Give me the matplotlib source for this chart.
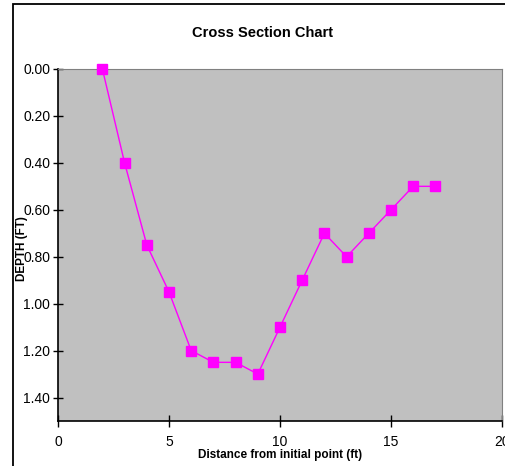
import matplotlib.pyplot as plt
from matplotlib.patches import Rectangle

plt.rcParams['font.family'] = ['Liberation Sans', 'DejaVu Sans']

# survey readings along the cross section
distance = [2, 3, 4, 5, 6, 7, 8, 9, 10, 11, 12, 13, 14, 15, 16, 17]
depth = [0.0, 0.4, 0.75, 0.95, 1.2, 1.25, 1.25, 1.3, 1.1, 0.9, 0.7, 0.8, 0.7, 0.6, 0.5, 0.5]
x_ticks = [0, 5, 10, 15, 20]
y_ticks = [0.0, 0.2, 0.4, 0.6, 0.8, 1.0, 1.2, 1.4]

W, H = 505, 466
fig = plt.figure(figsize=(W / 100, H / 100), dpi=100)

# chart frame
fig.patches.append(Rectangle((13 / W, -0.1), 1.2, 1.1 - 4 / H, transform=fig.transFigure,
                             fill=False, edgecolor='black', linewidth=1.3))

ax = fig.add_axes([58 / W, (H - 421) / H, 444 / W, 352 / H])
ax.set_facecolor('#C0C0C0')
ax.plot(distance, depth, color='#FF00FF', linewidth=1.0, marker='s', markersize=7,
        markerfacecolor='#FF00FF', markeredgecolor='#FF00FF', clip_on=False, zorder=3)

ax.set_xlim(0, 20)
ax.set_ylim(1.5, 0)
ax.set_xticks(x_ticks)
ax.set_yticks(y_ticks)
ax.set_yticklabels(['%.2f' % v for v in y_ticks])

for s in ['top', 'right']:
    ax.spines[s].set_color('#808080')
for s in ['left', 'bottom']:
    ax.spines[s].set_color('black')
    ax.spines[s].set_linewidth(1.2)

ax.tick_params(axis='x', direction='inout', length=8, width=1, labelsize=10, pad=6)
ax.tick_params(axis='y', direction='inout', length=7, width=1, labelsize=10, pad=2)

fig.text(262 / W, 1 - 33 / H, 'Cross Section Chart', ha='center', va='center',
         fontsize=10.5, fontweight='bold')
fig.text(280 / W, 1 - 455 / H, 'Distance from initial point (ft)', ha='center', va='center',
         fontsize=8.5, fontweight='bold')
fig.text(22 / W, 1 - 249 / H, 'DEPTH (FT)', ha='center', va='center', rotation=90,
         fontsize=8.5, fontweight='bold')

fig.savefig('out.png', dpi=100)
